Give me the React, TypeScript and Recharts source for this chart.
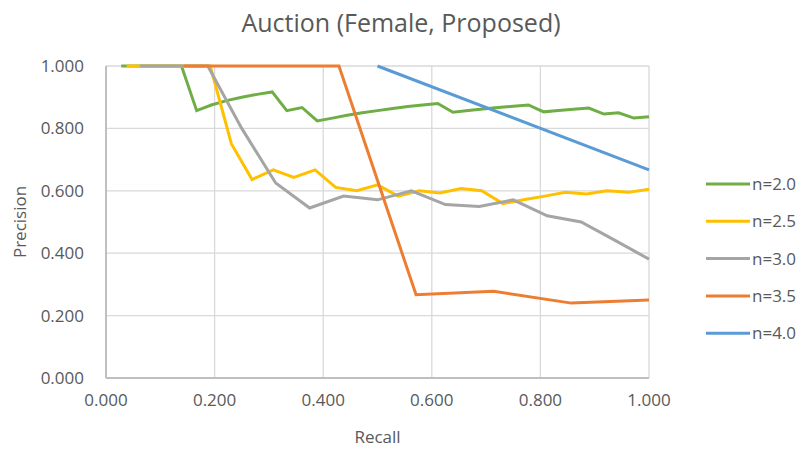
import React from 'react';
import { LineChart, Line, XAxis, YAxis, CartesianGrid, Label } from 'recharts';

const greenRecall = [0.028,0.056,0.083,0.111,0.139,0.167,0.194,0.222,0.25,0.278,0.306,0.333,0.361,0.389,0.417,0.444,0.472,0.5,0.528,0.556,0.583,0.611,0.639,0.667,0.694,0.722,0.75,0.778,0.806,0.833,0.861,0.889,0.917,0.944,0.972,1.0];
const greenPrecision = [1,1,1,1,1,0.857,0.875,0.889,0.9,0.909,0.917,0.857,0.867,0.824,0.833,0.842,0.85,0.857,0.864,0.87,0.875,0.88,0.852,0.857,0.862,0.867,0.871,0.875,0.853,0.857,0.861,0.865,0.846,0.85,0.833,0.837];

const yellowRecall = [0.038,0.077,0.115,0.154,0.192,0.231,0.269,0.308,0.346,0.385,0.423,0.462,0.5,0.538,0.577,0.615,0.654,0.692,0.731,0.769,0.808,0.846,0.885,0.923,0.962,1.0];
const yellowPrecision = [1,1,1,1,1,0.75,0.636,0.667,0.643,0.667,0.611,0.6,0.619,0.583,0.6,0.593,0.607,0.6,0.559,0.571,0.583,0.595,0.59,0.6,0.595,0.605];

const greyRecall = [0.0625,0.125,0.1875,0.25,0.3125,0.375,0.4375,0.5,0.5625,0.625,0.6875,0.75,0.8125,0.875,0.9375,1.0];
const greyPrecision = [1,1,1,0.8,0.625,0.545,0.583,0.571,0.6,0.556,0.55,0.571,0.52,0.5,0.441,0.381];

const orangeRecall = [0.143,0.286,0.429,0.571,0.714,0.857,1.0];
const orangePrecision = [1,1,1,0.267,0.278,0.24,0.25];

const blueRecall = [0.5,1.0];
const bluePrecision = [1,0.667];

const xTicks = [0,0.2,0.4,0.6,0.8,1.0];
const yTicks = [0,0.2,0.4,0.6,0.8,1.0];

const toPoints = (xs: number[], ys: number[]) => xs.map((x, i) => ({ x, y: ys[i] }));

const series = [
  { name: 'n=2.0', color: '#70AD47', data: toPoints(greenRecall, greenPrecision) },
  { name: 'n=2.5', color: '#FFC000', data: toPoints(yellowRecall, yellowPrecision) },
  { name: 'n=3.0', color: '#A5A5A5', data: toPoints(greyRecall, greyPrecision) },
  { name: 'n=3.5', color: '#ED7D31', data: toPoints(orangeRecall, orangePrecision) },
  { name: 'n=4.0', color: '#5B9BD5', data: toPoints(blueRecall, bluePrecision) },
];

const FONT = '"Open Sans", sans-serif';
const TXT = '#595959';

const LegendBox = () => (
  <svg width={100} height={190} style={{ position: 'absolute', left: 706, top: 174, overflow: 'visible' }}>
    {series.map((s, i) => (
      <g key={s.name}>
        <line x1={0} x2={44} y1={i * 37.3 + 10} y2={i * 37.3 + 10} stroke={s.color} strokeWidth={3} />
        <text x={46} y={i * 37.3 + 10} dy="0.35em" fontFamily={FONT} fontSize={17} fill={TXT}>{s.name}</text>
      </g>
    ))}
  </svg>
);

export default function App() {
  return (
    <div style={{ position: 'absolute', left: 0, top: 0, width: 802, height: 451, background: '#fff' }}>
      <div style={{ position: 'absolute', left: 0, top: 4, width: 802, textAlign: 'center', fontFamily: FONT, fontSize: 25, lineHeight: '36px', color: TXT }}>
        Auction (Female, Proposed)
      </div>
      <div style={{ position: 'absolute', left: 0, top: 0 }}>
        <LineChart width={802} height={451} margin={{ top: 66, right: 153, left: 0, bottom: 13 }}>
          <CartesianGrid stroke="#D9D9D9" strokeWidth={1.3} horizontal vertical />
          <XAxis
            type="number"
            dataKey="x"
            domain={[0, 1]}
            ticks={xTicks}
            interval={0}
            tickFormatter={(v: number) => v.toFixed(3)}
            allowDuplicatedCategory={false}
            height={60}
            stroke="#BFBFBF"
            strokeWidth={2}
            tickLine={false}
            tickSize={0}
            tickMargin={16}
            tick={{ fontFamily: FONT, fontSize: 17, fill: TXT }}
          >
            <Label
              content={(props: any) => {
                const vb = props.viewBox;
                return (
                  <text x={vb.x + vb.width / 2} y={437} dy="0.35em" textAnchor="middle" fontFamily={FONT} fontSize={17} fill={TXT}>Recall</text>
                );
              }}
            />
          </XAxis>
          <YAxis
            type="number"
            dataKey="y"
            domain={[0, 1]}
            ticks={yTicks}
            interval={0}
            tickFormatter={(v: number) => v.toFixed(3)}
            width={106}
            stroke="#BFBFBF"
            strokeWidth={2}
            tickLine={false}
            tickSize={0}
            tickMargin={22}
            tick={{ fontFamily: FONT, fontSize: 17, fill: TXT }}
          >
            <Label
              content={(props: any) => {
                const vb = props.viewBox;
                const cy = vb.y + vb.height / 2;
                return (
                  <text x={20} y={cy} dy="0.35em" textAnchor="middle" fontFamily={FONT} fontSize={17} fill={TXT} transform={`rotate(-90, 20, ${cy})`}>Precision</text>
                );
              }}
            />
          </YAxis>
          {series.map((s) => (
            <Line
              key={s.name}
              data={s.data}
              dataKey="y"
              name={s.name}
              type="linear"
              stroke={s.color}
              strokeWidth={3}
              dot={false}
              activeDot={false}
              isAnimationActive={false}
            />
          ))}
        </LineChart>
      </div>
      <LegendBox />
    </div>
  );
}
